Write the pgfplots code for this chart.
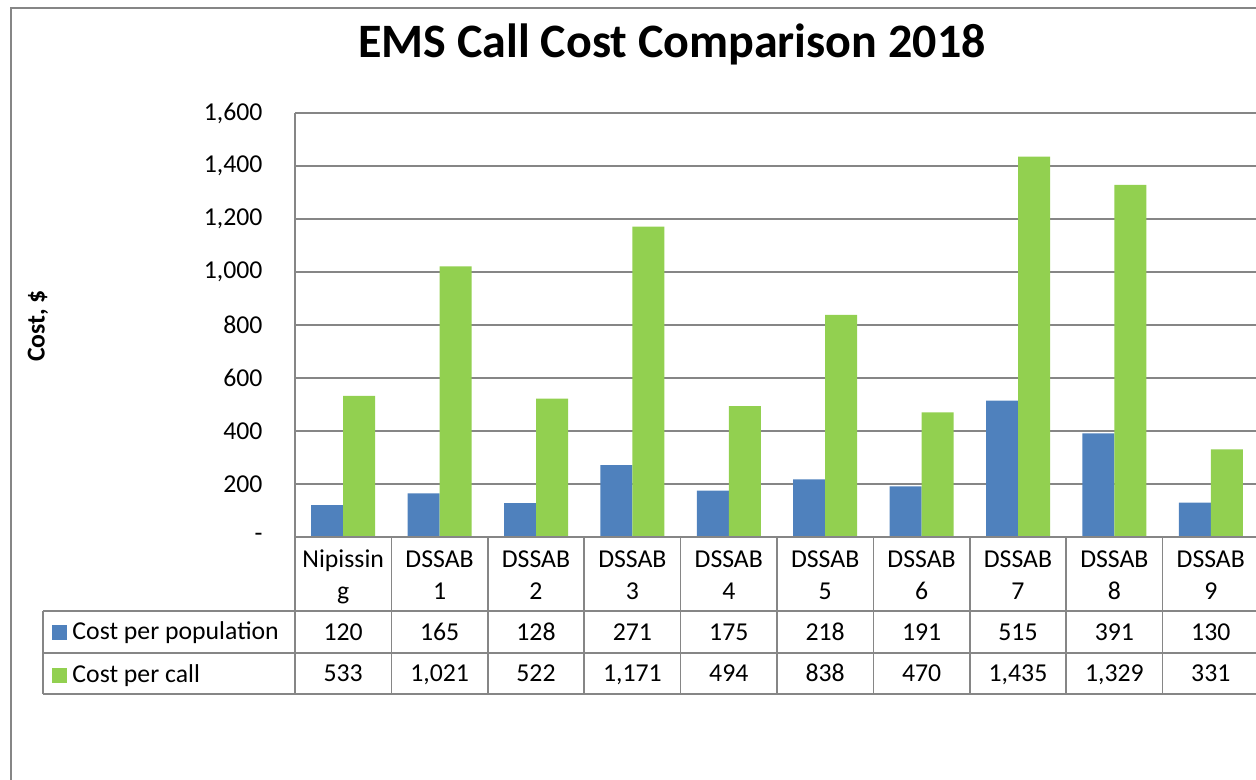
\documentclass[border=0pt]{standalone}
\usepackage{pgfplots}
\pgfplotsset{compat=1.18}
\usepackage{fontspec}
\setmainfont{Carlito}

\definecolor{blu}{RGB}{79,129,189}
\definecolor{grn}{RGB}{146,208,80}
\definecolor{gline}{RGB}{134,134,134}

\begin{document}
\fontsize{10.3pt}{12pt}\selectfont
\begin{tikzpicture}
% 1 px of the reference = 0.4pt
\useasboundingbox (0,0) rectangle (502.4pt,-311.6pt);
\begin{scope}[x=0.4pt,y=-0.4pt]
\draw[gline, line width=0.6pt] (11,790) -- (11,8) -- (1270,8);
\node[font=\bfseries\fontsize{19.2pt}{23pt}\selectfont, anchor=base] at (672,57) {EMS Call Cost Comparison 2018};
\node[font=\bfseries, rotate=90] at (38,326) {Cost, \$};
\end{scope}

\begin{axis}[
    at={(118pt,-214.8pt)}, anchor=south west,
    scale only axis,
    width=385.6pt, height=169.6pt,
    xmin=-0.5, xmax=9.5,
    ymin=0, ymax=1600,
    axis x line=none,
    axis y line*=left,
    y axis line style={gline, line width=0.6pt, -},
    ytick={0,200,...,1600},
    yticklabels={{-\hspace{4.4pt}},200,400,600,800,{1,000},{1,200},{1,400},{1,600}},
    major tick length=0pt,
    yticklabel style={inner sep=0pt, xshift=-12.8pt},
    ymajorgrids,
    grid style={gline, line width=0.6pt},
    ybar=0pt, bar width=0.332,
    clip=false,
    legend style={at={(axis description cs:-0.2521,-0.275)}, anchor=west,
        draw=none, fill=none, inner sep=0pt, row sep=4.5pt,
        legend cell align=left},
    legend image code/.code={\fill[#1] (0pt,-3pt) rectangle (6pt,3pt);},
]
\addplot[fill=blu, draw=none] coordinates {(0,120) (1,165) (2,128) (3,271) (4,175) (5,218) (6,191) (7,515) (8,391) (9,130)};
\addplot[fill=grn, draw=none] coordinates {(0,533) (1,1021) (2,522) (3,1171) (4,494) (5,838) (6,470) (7,1435) (8,1329) (9,331)};
\legend{Cost per population, Cost per call}
\end{axis}

% data table
\begin{scope}[x=0.4pt,y=-0.4pt]
\begin{scope}[gline, line width=0.6pt]
\draw (295,537) -- (1270,537);
\draw (43,611) -- (1270,611);
\draw (43,653) -- (1270,653);
\draw (43,694) -- (1270,694);
\draw (43,611) -- (43,694);
\draw (295,537) -- (295,694);
\foreach \i in {1,...,9} \draw ({295+96.4*\i},537) -- ({295+96.4*\i},694);
\end{scope}
\foreach \a/\b [count=\i from 0] in {Nipissin/g,DSSAB/1,DSSAB/2,DSSAB/3,DSSAB/4,DSSAB/5,DSSAB/6,DSSAB/7,DSSAB/8,DSSAB/9}{
  \node[anchor=base, inner sep=0pt] at ({343.2+96.4*\i},567) {\a};
  \node[anchor=base, inner sep=0pt] at ({343.2+96.4*\i},599) {\b};
}
\foreach \v [count=\i from 0] in {120,165,128,271,175,218,191,515,391,130}
  \node[anchor=base, inner sep=0pt] at ({343.2+96.4*\i},640) {\v};
\foreach \v [count=\i from 0] in {533,{1,021},522,{1,171},494,838,470,{1,435},{1,329},331}
  \node[anchor=base, inner sep=0pt] at ({343.2+96.4*\i},681) {\v};
\end{scope}
\end{tikzpicture}
\end{document}
